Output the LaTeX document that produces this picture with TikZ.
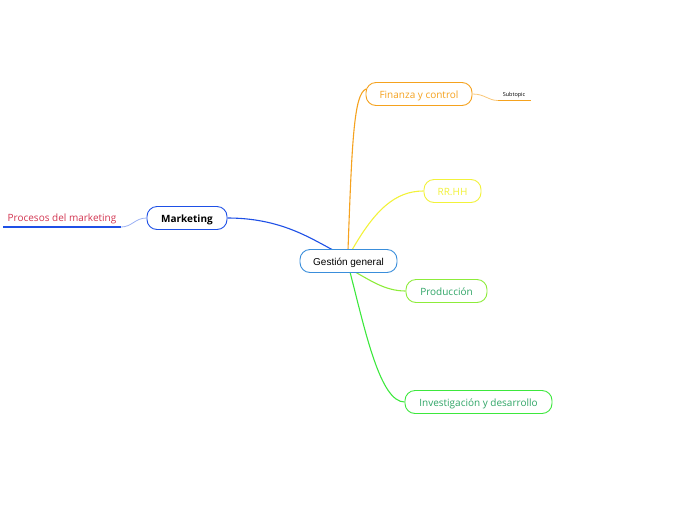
\documentclass[tikz,border=0pt]{standalone}
\usepackage{fontspec}
\setmainfont{Open Sans}
\newfontfamily\arialf{Liberation Sans}
\usetikzlibrary{backgrounds}
\definecolor{cblue}{HTML}{3A8EDB}
\definecolor{cmark}{HTML}{1E50E6}
\definecolor{corange}{HTML}{F5A21E}
\definecolor{cyellow}{HTML}{F2F23A}
\definecolor{clgreen}{HTML}{8DEC3A}
\definecolor{cgreen}{HTML}{3DE83D}
\definecolor{tgreen}{HTML}{2FA566}
\definecolor{tred}{HTML}{D23450}
\begin{document}
\begin{tikzpicture}[x=1pt,y=-1pt,
  topic/.style={draw, rounded corners=10pt, line width=0.9pt, minimum height=23pt, inner xsep=0pt, text height=9pt, text depth=1pt, font=\fontsize{10}{12}\selectfont, fill=white},
  conn/.style={line width=1.1pt}]
\useasboundingbox (0,0) rectangle (696,520);
\node[topic, draw=cblue, minimum width=97pt, font=\arialf\fontsize{10}{12}\selectfont] (g) at (348.5,261) {Gestión general};
\node[topic, draw=cmark, minimum width=80pt, font=\bfseries\fontsize{10}{12}\selectfont] (m) at (187,218) {Marketing};
\node[topic, draw=corange, text=corange, minimum width=106pt] (f) at (419,94) {Finanza y control};
\node[topic, draw=cyellow, text=cyellow, minimum width=57pt] (r) at (452.5,191) {RR.HH};
\node[topic, draw=clgreen, text=tgreen, minimum width=81pt] (p) at (446.5,291) {Producción};
\node[topic, draw=cgreen, text=tgreen, minimum width=147pt] (i) at (478.5,402) {Investigación y desarrollo};
\node[font=\fontsize{5.5}{6}\selectfont, inner sep=0pt, text height=5pt, text depth=0pt] (s) at (514,94) {Subtopic};
\coordinate (s1) at (498,100.5);
\coordinate (s2) at (531,100.5);
\node[text=tred, font=\fontsize{10}{12}\selectfont, inner sep=0pt, text height=9pt, text depth=1pt] (pm) at (62,217.5) {Procesos del marketing};
\coordinate (p1) at (121,227);
\coordinate (p2) at (3,227);
\begin{scope}[on background layer]
\draw[conn, draw=cmark] (m.east) .. controls (280,218) and (310,238) .. (333,250);
\draw[conn, draw=corange] (348,250) .. controls (352,140) and (354,94) .. (366,89);
\draw[conn, draw=cyellow] (352,250) .. controls (375,210) and (395,191) .. (r.west);
\draw[conn, draw=clgreen] (355,272) .. controls (370,280) and (385,291) .. (p.west);
\draw[conn, draw=cgreen] (350,272) .. controls (365,330) and (380,402) .. (i.west);
\draw[line width=0.8pt, draw=corange!60] (f.east) .. controls (485,94) and (488,100.5) .. (s1);
\draw[line width=0.8pt, draw=cmark!45] (m.west) .. controls (135,218) and (132,227) .. (p1);
\end{scope}
\draw[line width=1.4pt, draw=corange] (s1) -- (s2);
\draw[line width=1.4pt, draw=cmark] (p1) -- (p2);
\end{tikzpicture}
\end{document}
